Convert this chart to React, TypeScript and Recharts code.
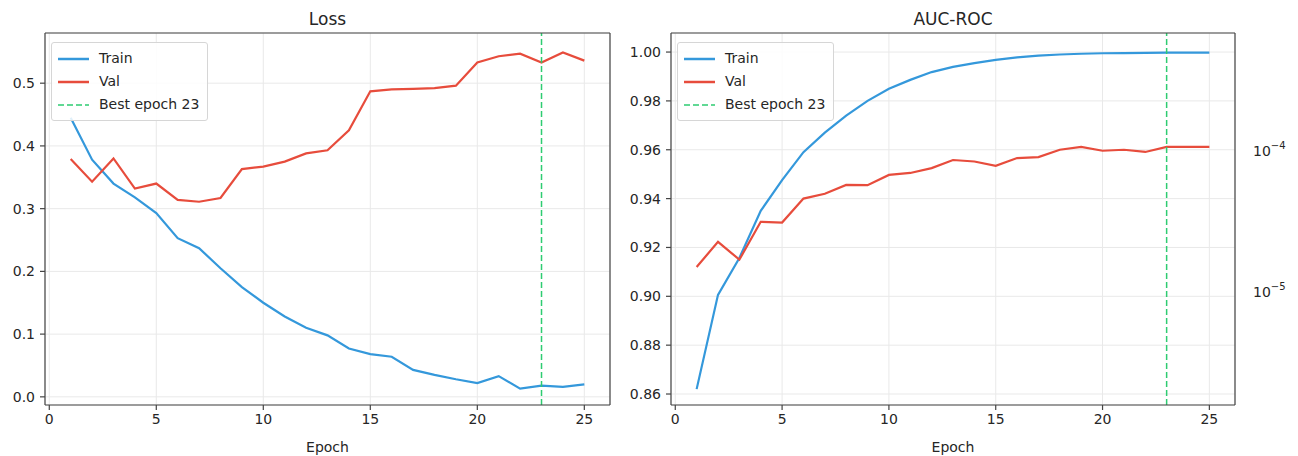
import React from "react";
import {
  LineChart,
  Line,
  XAxis,
  YAxis,
  CartesianGrid,
  ReferenceLine,
  Legend,
  Label,
} from "recharts";

const EPOCHS = [1, 2, 3, 4, 5, 6, 7, 8, 9, 10, 11, 12, 13, 14, 15, 16, 17, 18, 19, 20, 21, 22, 23, 24, 25];

const TRAIN_LOSS = [
  0.445, 0.378, 0.34, 0.318, 0.293, 0.253, 0.237, 0.205, 0.175, 0.15, 0.128, 0.11, 0.098,
  0.077, 0.068, 0.064, 0.043, 0.035, 0.028, 0.022, 0.033, 0.013, 0.018, 0.016, 0.02,
];
const VAL_LOSS = [
  0.379, 0.343, 0.38, 0.332, 0.34, 0.314, 0.311, 0.317, 0.363, 0.367, 0.375, 0.388, 0.393,
  0.425, 0.487, 0.49, 0.491, 0.492, 0.496, 0.533, 0.543, 0.547, 0.533, 0.549, 0.536,
];
const TRAIN_AUC = [
  0.862, 0.9006, 0.9157, 0.935, 0.9476, 0.959, 0.967, 0.974, 0.98, 0.985, 0.9886, 0.9918,
  0.9939, 0.9955, 0.9968, 0.9978, 0.9985, 0.999, 0.9993, 0.9995, 0.9996, 0.9997, 0.9998,
  0.9998, 0.9998,
];
const VAL_AUC = [
  0.912, 0.9223, 0.915, 0.9305, 0.9302, 0.94, 0.942, 0.9456, 0.9455, 0.9497, 0.9505, 0.9525,
  0.9558, 0.9552, 0.9534, 0.9566, 0.957, 0.96, 0.9612, 0.9596, 0.96, 0.9591, 0.9612, 0.9612,
  0.9612,
];

const BEST_EPOCH = 23;
const EPOCH_TICKS = [0, 5, 10, 15, 20, 25];
const LOSS_TICKS = [0, 0.1, 0.2, 0.3, 0.4, 0.5];
const AUC_TICKS = [0.86, 0.88, 0.9, 0.92, 0.94, 0.96, 0.98, 1.0];
const LR_TICKS = [1e-5, 1e-4];

const BLUE = "#3498db";
const RED = "#e74c3c";
const GREEN = "#2ecc71";
const FRAME = "#444";
const TEXT = "#262626";
const GRID = "#e9e9e9";

const LEGEND_ITEMS = [
  { label: "Train", color: BLUE, dashed: false },
  { label: "Val", color: RED, dashed: false },
  { label: `Best epoch ${BEST_EPOCH}`, color: GREEN, dashed: true },
];

const data = EPOCHS.map((epoch, i) => ({
  epoch,
  trainLoss: TRAIN_LOSS[i],
  valLoss: VAL_LOSS[i],
  trainAuc: TRAIN_AUC[i],
  valAuc: VAL_AUC[i],
}));

const X_DOMAIN: [number, number] = [-0.2, 26.2];
const tickStyle = { fontSize: 14, fill: TEXT };

function LegendBox() {
  return (
    <div
      style={{
        background: "rgba(255,255,255,0.85)",
        border: "1px solid #d6d6d6",
        borderRadius: 3,
        padding: "4px 8px 4px 6px",
        fontSize: 14,
        color: TEXT,
        lineHeight: "23px",
      }}
    >
      {LEGEND_ITEMS.map((item) => (
        <div key={item.label} style={{ display: "flex", alignItems: "center", whiteSpace: "nowrap" }}>
          <svg width={31} height={6} style={{ marginRight: 10 }}>
            <line
              x1={0}
              y1={3}
              x2={31}
              y2={3}
              stroke={item.color}
              strokeWidth={item.dashed ? 1.5 : 2.5}
              strokeDasharray={item.dashed ? "6 3" : undefined}
            />
          </svg>
          <span>{item.label}</span>
        </div>
      ))}
    </div>
  );
}

function LrTick(props: any) {
  const { x, y, payload } = props;
  const exp = Math.round(Math.log10(payload.value));
  return (
    <text x={x} y={y} dy={5} fill={TEXT} fontSize={14} textAnchor="start">
      10
      <tspan dy={-7} fontSize={10}>
        {"\u2212" + Math.abs(exp)}
      </tspan>
    </text>
  );
}

function Title({ text, center }: { text: string; center: number }) {
  return (
    <div
      style={{
        position: "absolute",
        top: 9,
        left: center - 100,
        width: 200,
        textAlign: "center",
        fontSize: 17,
        lineHeight: "20px",
        color: TEXT,
      }}
    >
      {text}
    </div>
  );
}

export default function App() {
  return (
    <div
      style={{
        position: "absolute",
        left: 0,
        top: 0,
        width: 1298,
        height: 456,
        background: "#fff",
        fontFamily: "'DejaVu Sans', sans-serif",
      }}
    >
      <Title text="Loss" center={327.5} />
      <Title text="AUC-ROC" center={953} />

      {/* Loss */}
      <div style={{ position: "absolute", left: 0, top: 0 }}>
        <LineChart width={630} height={456} data={data} margin={{ top: 32, right: 19, bottom: 4, left: 5 }}>
          <CartesianGrid stroke={GRID} strokeWidth={1} />
          <XAxis
            dataKey="epoch"
            type="number"
            domain={X_DOMAIN}
            ticks={EPOCH_TICKS}
            allowDataOverflow
            height={47}
            tick={tickStyle}
            tickSize={5}
            tickMargin={4}
            stroke={FRAME}
            strokeWidth={1.2}
          >
            <Label value="Epoch" position="insideBottom" offset={0} fill={TEXT} fontSize={14} />
          </XAxis>
          <XAxis xAxisId="top" orientation="top" type="number" domain={X_DOMAIN} height={1} tick={false} tickLine={false} stroke={FRAME} strokeWidth={1.2} />
          <YAxis
            type="number"
            domain={[-0.013, 0.58]}
            ticks={LOSS_TICKS}
            allowDataOverflow
            width={40}
            tick={tickStyle}
            tickSize={5}
            tickMargin={5}
            tickFormatter={(v) => v.toFixed(1)}
            stroke={FRAME}
            strokeWidth={1.2}
          />
          <YAxis yAxisId="frame" orientation="right" type="number" domain={[0, 1]} width={1} tick={false} tickLine={false} stroke={FRAME} strokeWidth={1.2} />
          <Legend
            layout="horizontal"
            align="center"
            verticalAlign="middle"
            content={() => <LegendBox />}
            wrapperStyle={{ top: 42, left: 51, width: "auto" }}
          />
          <Line dataKey="trainLoss" name="Train" stroke={BLUE} strokeWidth={2.2} dot={false} activeDot={false} isAnimationActive={false} />
          <Line dataKey="valLoss" name="Val" stroke={RED} strokeWidth={2.2} dot={false} activeDot={false} isAnimationActive={false} />
          <ReferenceLine x={BEST_EPOCH} stroke={GREEN} strokeWidth={1.5} strokeDasharray="6 3" />
        </LineChart>
      </div>

      {/* AUC-ROC */}
      <div style={{ position: "absolute", left: 620, top: 0 }}>
        <LineChart width={678} height={456} data={data} margin={{ top: 32, right: 0, bottom: 4, left: 5 }}>
          <CartesianGrid stroke={GRID} strokeWidth={1} />
          <XAxis
            dataKey="epoch"
            type="number"
            domain={X_DOMAIN}
            ticks={EPOCH_TICKS}
            allowDataOverflow
            height={47}
            tick={tickStyle}
            tickSize={5}
            tickMargin={4}
            stroke={FRAME}
            strokeWidth={1.2}
          >
            <Label value="Epoch" position="insideBottom" offset={0} fill={TEXT} fontSize={14} />
          </XAxis>
          <XAxis xAxisId="top" orientation="top" type="number" domain={X_DOMAIN} height={1} tick={false} tickLine={false} stroke={FRAME} strokeWidth={1.2} />
          <YAxis
            type="number"
            domain={[0.8555, 1.0078]}
            ticks={AUC_TICKS}
            allowDataOverflow
            width={46}
            tick={tickStyle}
            tickSize={5}
            tickMargin={5}
            tickFormatter={(v) => v.toFixed(2)}
            stroke={FRAME}
            strokeWidth={1.2}
          />
          <YAxis
            yAxisId="lr"
            orientation="right"
            scale="log"
            type="number"
            domain={[1.58e-6, 6.87e-4]}
            ticks={LR_TICKS}
            allowDataOverflow
            width={63}
            tick={<LrTick />}
            tickLine={false}
            tickSize={0}
            tickMargin={18}
            stroke={FRAME}
            strokeWidth={1.2}
          />
          <Legend
            layout="horizontal"
            align="center"
            verticalAlign="middle"
            content={() => <LegendBox />}
            wrapperStyle={{ top: 42, left: 57, width: "auto" }}
          />
          <Line dataKey="trainAuc" name="Train" stroke={BLUE} strokeWidth={2.2} dot={false} activeDot={false} isAnimationActive={false} />
          <Line dataKey="valAuc" name="Val" stroke={RED} strokeWidth={2.2} dot={false} activeDot={false} isAnimationActive={false} />
          <ReferenceLine x={BEST_EPOCH} stroke={GREEN} strokeWidth={1.5} strokeDasharray="6 3" />
        </LineChart>
      </div>
    </div>
  );
}
